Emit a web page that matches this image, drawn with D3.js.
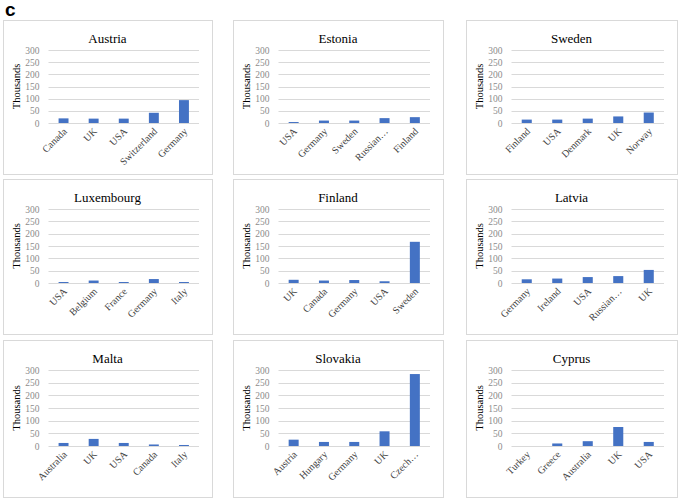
<!DOCTYPE html>
<html><head><meta charset="utf-8">
<script src="https://cdn.jsdelivr.net/npm/d3@7"></script>
<style>body{margin:0;background:#fff}</style>
</head><body>
<script>
// ---- data ----
const titles = ["Austria","Estonia","Sweden","Luxembourg","Finland","Latvia","Malta","Slovakia","Cyprus"];
const categories = [
  ["Canada","UK","USA","Switzerland","Germany"],
  ["USA","Germany","Sweden","Russian…","Finland"],
  ["Finland","USA","Denmark","UK","Norway"],
  ["USA","Belgium","France","Germany","Italy"],
  ["UK","Canada","Germany","USA","Sweden"],
  ["Germany","Ireland","USA","Russian…","UK"],
  ["Australia","UK","USA","Canada","Italy"],
  ["Austria","Hungary","Germany","UK","Czech…"],
  ["Turkey","Greece","Australia","UK","USA"]
];
const values = [
  [19, 18, 18, 42, 94],
  [4, 10, 10, 20, 24],
  [14, 14, 18, 27, 43],
  [4, 10, 4, 16, 4],
  [13, 10, 12, 7, 167],
  [15, 18, 24, 28, 53],
  [12, 28, 12, 6, 4],
  [25, 16, 16, 58, 284],
  [0, 10, 19, 75, 16]
];
const yTicks = [0, 50, 100, 150, 200, 250, 300];
const yLabel = "Thousands";
const panelLetter = "c";

// ---- layout ----
const W = 685, H = 502;
const colX = [3, 233, 466], colW = [209, 210, 211];
const rowY = [20, 179, 340], rowH = [154, 155, 157];

const svg = d3.select("body").append("svg").attr("width", W).attr("height", H);

svg.append("text").attr("x", 5).attr("y", 16)
  .attr("font-family", "Liberation Sans, Arial, sans-serif")
  .attr("font-weight", "bold").attr("font-size", 19).attr("fill", "#000")
  .text(panelLetter);

titles.forEach((t, i) => {
  const c = i % 3, r = Math.floor(i / 3);
  const bx = colX[c], by = rowY[r], bw = colW[c], bh = rowH[r];
  const g = svg.append("g");
  g.append("rect").attr("x", bx + 0.5).attr("y", by + 0.5).attr("width", bw).attr("height", bh)
    .attr("fill", "#fff").attr("stroke", "#d9d9d9").attr("stroke-width", 1);

  const left = bx + 45.5, right = bx + bw - 13;
  const top = by + 30, bottom = by + 30 + (bh - 81);

  const x = d3.scaleBand().domain(categories[i]).range([left, right]).paddingInner(0.67).paddingOuter(0.335);
  const y = d3.scaleLinear().domain([0, 300]).range([bottom, top]);

  // gridlines
  g.append("g").selectAll("line").data(yTicks).join("line")
    .attr("x1", left).attr("x2", right)
    .attr("y1", d => Math.round(y(d)) + 0.5).attr("y2", d => Math.round(y(d)) + 0.5)
    .attr("stroke", "#d9d9d9").attr("stroke-width", 1);

  // y axis labels
  const ya = g.append("g").attr("transform", `translate(${left},0)`)
    .call(d3.axisLeft(y).tickValues(yTicks).tickSize(0).tickPadding(9));
  ya.select(".domain").remove();
  ya.selectAll("text").attr("font-family", "Liberation Serif, Times New Roman, serif")
    .attr("font-size", 9.5).attr("fill", "#8c8c8c");

  // bars
  g.append("g").selectAll("rect").data(values[i]).join("rect")
    .attr("x", (d, k) => x(categories[i][k]))
    .attr("width", x.bandwidth())
    .attr("y", d => y(d))
    .attr("height", d => y(0) - y(d))
    .attr("fill", "#4472c4");

  // x axis labels
  const xa = g.append("g").attr("transform", `translate(0,${bottom})`)
    .call(d3.axisBottom(x).tickSize(0).tickPadding(0));
  xa.select(".domain").remove();
  xa.selectAll("text")
    .attr("font-family", "Liberation Serif, Times New Roman, serif")
    .attr("font-size", 10).attr("fill", "#404040")
    .attr("text-anchor", "end").attr("dy", null).attr("y", 0)
    .attr("transform", "translate(4,9) rotate(-45)");

  // title
  g.append("text").attr("x", bx + bw / 2).attr("y", by + 22.5)
    .attr("text-anchor", "middle")
    .attr("font-family", "Liberation Serif, Times New Roman, serif")
    .attr("font-size", 13).attr("fill", "#000").text(t);

  // y label
  g.append("text")
    .attr("transform", `translate(${left - 29},${(top + bottom) / 2}) rotate(-90)`)
    .attr("text-anchor", "middle")
    .attr("font-family", "Liberation Serif, Times New Roman, serif")
    .attr("font-size", 10.5).attr("fill", "#000").text(yLabel);
});
</script>
</body></html>
